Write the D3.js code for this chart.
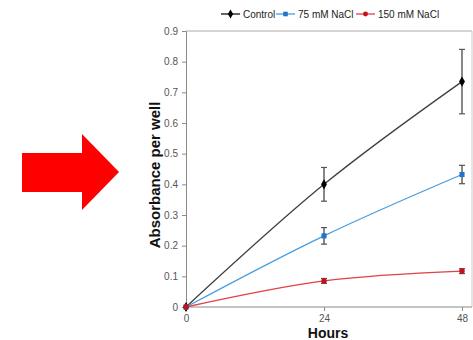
<!DOCTYPE html>
<html>
<head>
<meta charset="utf-8">
<script src="https://cdn.jsdelivr.net/npm/d3@7"></script>
<style>
  body { margin: 0; background: #fff; }
  svg { display: block; font-family: "Liberation Sans", Arial, sans-serif; }
</style>
</head>
<body>
<svg id="chart" width="473" height="340"></svg>
<script>
// data
const hours = [0, 24, 48];
const controlVals = [0, 0.40, 0.735];
const controlErr = [0, 0.055, 0.105];
const nacl75Vals = [0, 0.232, 0.432];
const nacl75Err = [0, 0.027, 0.03];
const nacl150Vals = [0, 0.085, 0.117];
const nacl150Err = [0, 0.008, 0.008];
const yTickVals = [0, 0.1, 0.2, 0.3, 0.4, 0.5, 0.6, 0.7, 0.8, 0.9];
const yTickLabels = ["0", "0.1", "0.2", "0.3", "0.4", "0.5", "0.6", "0.7", "0.8", "0.9"];
const seriesNames = ["Control", "75 mM NaCl", "150 mM NaCl"];

const svg = d3.select("#chart");

// red arrow on the left
svg.append("path")
    .attr("d", "M22,153 L82,153 L82,134 L119,172 L82,210 L82,192 L22,192 Z")
    .attr("fill", "#ff0000");

const x = d3.scaleLinear().domain([0, 48]).range([186, 462]);
const y = d3.scaleLinear().domain([0, 0.9]).range([307, 31]);
const axisColor = "#8a8a8a";
const labelColor = "#555";

// frame top and right
svg.append("line").attr("x1", x(0)).attr("x2", 472).attr("y1", y(0.9)).attr("y2", y(0.9))
    .attr("stroke", "#aaa").attr("stroke-width", 1);
svg.append("line").attr("x1", 472).attr("x2", 472).attr("y1", y(0.9)).attr("y2", y(0))
    .attr("stroke", "#ccc").attr("stroke-width", 1);

// y axis
const yAxis = svg.append("g")
    .attr("transform", "translate(" + x(0) + ",0)")
    .call(d3.axisLeft(y).tickValues(yTickVals).tickSize(4).tickPadding(4)
        .tickFormat((d, i) => yTickLabels[i]));
yAxis.select(".domain").attr("stroke", axisColor);
yAxis.selectAll(".tick line").attr("stroke", axisColor);
yAxis.selectAll("text").attr("fill", labelColor).attr("font-size", 10)
    .attr("font-family", "Liberation Sans, Arial, sans-serif");

// x axis
const xAxis = svg.append("g")
    .attr("transform", "translate(0," + y(0) + ")")
    .call(d3.axisBottom(x).tickValues(hours).tickSize(4).tickPadding(4).tickFormat(d3.format("d")));
xAxis.select(".domain").attr("stroke", axisColor).attr("d", "M" + x(0) + ",0H472");
xAxis.selectAll(".tick line").attr("stroke", axisColor);
xAxis.selectAll("text").attr("fill", labelColor).attr("font-size", 10)
    .attr("font-family", "Liberation Sans, Arial, sans-serif");

// axis titles
svg.append("text")
    .attr("x", 328).attr("y", 338)
    .attr("text-anchor", "middle")
    .attr("font-weight", "bold").attr("font-size", 14).attr("fill", "#111")
    .text("Hours");
svg.append("text")
    .attr("transform", "translate(160,175) rotate(-90)")
    .attr("text-anchor", "middle")
    .attr("font-weight", "bold").attr("font-size", 15).attr("fill", "#111")
    .text("Absorbance  per well");

const series = [
    {name: seriesNames[0], vals: controlVals, err: controlErr, line: "#404040", mark: "#000", shape: d3.symbolDiamond, size: 30},
    {name: seriesNames[1], vals: nacl75Vals, err: nacl75Err, line: "#4a9ee0", mark: "#1f74c8", shape: d3.symbolSquare, size: 26},
    {name: seriesNames[2], vals: nacl150Vals, err: nacl150Err, line: "#e0404a", mark: "#c8101c", shape: d3.symbolCircle, size: 24}
];

const line = d3.line()
    .x((d, i) => x(hours[i]))
    .y(d => y(d))
    .curve(d3.curveCatmullRom.alpha(0));

series.forEach(s => {
    svg.append("path")
        .datum(s.vals)
        .attr("fill", "none")
        .attr("stroke", s.line)
        .attr("stroke-width", 1.3)
        .attr("d", line);
});

// error bars
series.forEach(s => {
    const g = svg.append("g");
    s.vals.forEach((v, i) => {
        if (!s.err[i]) return;
        const cx = x(hours[i]);
        const top = y(v + s.err[i]), bot = y(v - s.err[i]);
        g.append("line").attr("x1", cx).attr("x2", cx).attr("y1", top).attr("y2", bot)
            .attr("stroke", "#555").attr("stroke-width", 1.4);
        [top, bot].forEach(yy => g.append("line")
            .attr("x1", cx - 3).attr("x2", cx + 3).attr("y1", yy).attr("y2", yy)
            .attr("stroke", "#555").attr("stroke-width", 1.2));
    });
});

// markers
series.forEach(s => {
    svg.append("g").selectAll("path")
        .data(s.vals)
        .enter().append("path")
        .attr("transform", (d, i) => "translate(" + x(hours[i]) + "," + y(d) + ")")
        .attr("d", d3.symbol().type(s.shape).size(s.size))
        .attr("fill", s.mark);
});

// legend
const legendX = [221, 276, 356];
series.forEach((s, i) => {
    const lg = svg.append("g").attr("transform", "translate(" + legendX[i] + ",14)");
    lg.append("line").attr("x1", 0).attr("x2", 19).attr("y1", 0).attr("y2", 0)
        .attr("stroke", s.line === "#404040" ? "#111" : s.line).attr("stroke-width", 1.3);
    lg.append("path").attr("transform", "translate(9.5,0)")
        .attr("d", d3.symbol().type(s.shape).size(s.size * 0.8))
        .attr("fill", s.mark);
    lg.append("text").attr("x", 22).attr("y", 3.5)
        .attr("font-size", 10).attr("fill", "#222")
        .text(s.name);
});
</script>
</body>
</html>
